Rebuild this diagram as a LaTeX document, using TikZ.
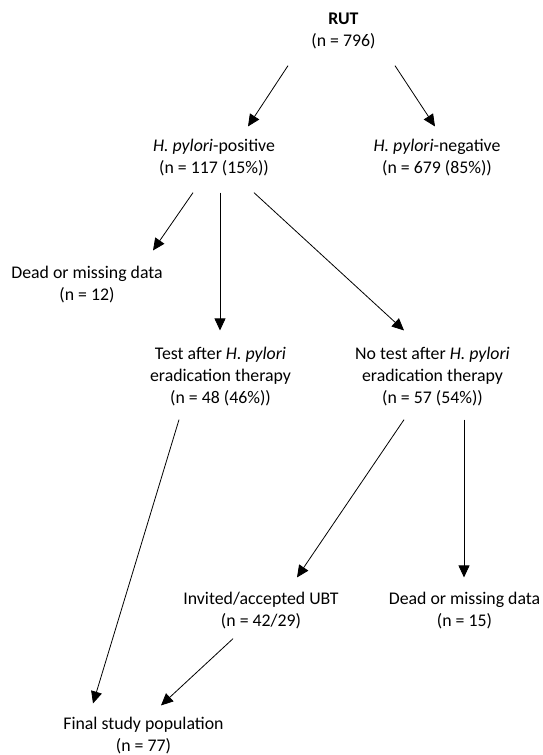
\documentclass[tikz,border=0pt]{standalone}
\usepackage{fontspec}
\setmainfont{Carlito}
\usetikzlibrary{arrows.meta}

\tikzset{
    box/.style={align=center, inner sep=0pt, anchor=base,
        font=\fontsize{17.8}{22}\selectfont},
    arr/.style={-{Triangle[length=12pt,width=11pt]}, line width=0.8pt},
}

\begin{document}
\begin{tikzpicture}[x=1pt,y=-1pt]
    \useasboundingbox (0,0) rectangle (543,755);

    \node [box] (rut) at (343.5,46)
        {\textbf{RUT}\\(n = 796)};
    \node [box] (pos) at (214,173)
        {\textit{H. pylori}-positive\\(n = 117 (15\%))};
    \node [box] (neg) at (437,173)
        {\textit{H. pylori}-negative\\(n = 679 (85\%))};
    \node [box] (deadA) at (87,300)
        {Dead or missing data\\(n = 12)};
    \node [box] (test) at (220.5,403)
        {Test after \textit{H. pylori}\\eradication therapy\\(n = 48 (46\%))};
    \node [box] (notest) at (432.5,403)
        {No test after \textit{H. pylori}\\eradication therapy\\(n = 57 (54\%))};
    \node [box] (ubt) at (261,626)
        {Invited/accepted UBT\\(n = 42/29)};
    \node [box] (deadB) at (464.5,626)
        {Dead or missing data\\(n = 15)};
    \node [box] (final) at (143.5,751)
        {Final study population\\(n = 77)};

    \draw [arr]
        ([shift={(-55.5pt,-17pt)}]rut.south)
        --
        ([shift={(34pt,12pt)}]pos.north)
        ;

    \draw [arr]
        ([shift={(51.5pt,-17pt)}]rut.south)
        --
        ([shift={(-2pt,12pt)}]neg.north)
        ;

    \draw [arr]
        ([shift={(-21pt,-17pt)}]pos.south)
        --
        ([shift={(66pt,15pt)}]deadA.north)
        ;

    \draw [arr]
        ([shift={(6pt,-17pt)}]pos.south)
        --
        ([shift={(-0.5pt,16pt)}]test.north)
        ;

    \draw [arr]
        ([shift={(40pt,-17pt)}]pos.south)
        --
        ([shift={(-28.5pt,16pt)}]notest.north)
        ;

    \draw [arr]
        ([shift={(-41.5pt,-14pt)}]test.south)
        --
        ([shift={(-50.5pt,13pt)}]final.north)
        ;

    \draw [arr]
        ([shift={(-28.5pt,-14pt)}]notest.south)
        --
        ([shift={(36pt,14pt)}]ubt.north)
        ;

    \draw [arr]
        ([shift={(31.5pt,-14pt)}]notest.south)
        --
        ([shift={(-0.5pt,14pt)}]deadB.north)
        ;

    \draw [arr]
        ([shift={(-28pt,-10pt)}]ubt.south)
        --
        ([shift={(17.5pt,11pt)}]final.north)
        ;

\end{tikzpicture}
\end{document}
